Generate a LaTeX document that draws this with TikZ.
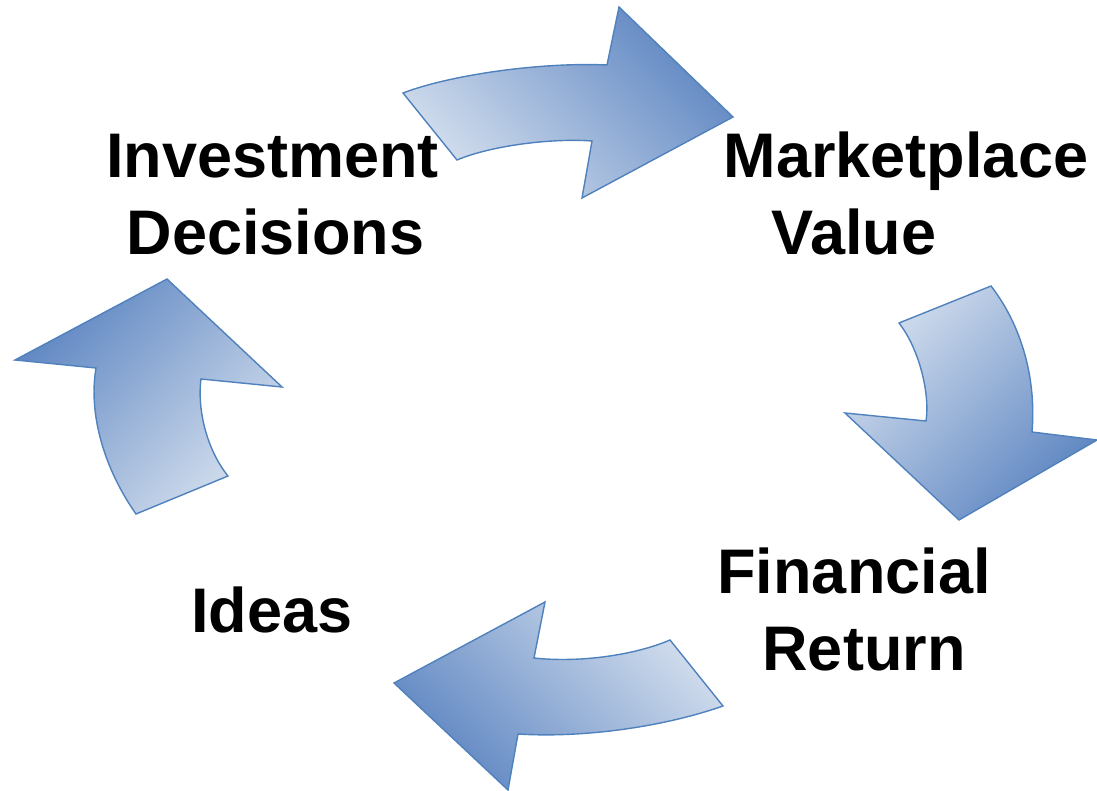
\documentclass[tikz,border=0pt]{standalone}
\usepackage{fontspec}
\setmainfont{Liberation Sans}
\definecolor{arrowlight}{RGB}{212,223,238}
\definecolor{arrowdark}{RGB}{94,134,194}
\definecolor{arrowline}{RGB}{79,129,189}
\tikzset{
  cyclearrow/.style={draw=arrowline, line width=1.4pt, line join=miter,
    top color=arrowdark, bottom color=arrowlight},
  label/.style={font=\bfseries\fontsize{63}{77}\selectfont, inner sep=0pt, anchor=base}
}
\begin{document}
\begin{tikzpicture}[x=1pt,y=-1pt]
\useasboundingbox (0,0) rectangle (1097,791);
% top arrow: Investment Decisions -> Marketplace Value
\shade[cyclearrow, shading angle=-45]
  (403,93) .. controls (450,75) and (540,62) .. (607,65) -- (619,7) -- (733,117)
  -- (582,198) -- (592,141) .. controls (550,138) and (490,146) .. (457,160) -- cycle;
% right arrow: Marketplace Value -> Financial Return
\shade[cyclearrow, shading angle=-135]
  (899,323) -- (991,286) .. controls (1025,330) and (1036,385) .. (1032,432)
  -- (1097,440) -- (959,520) -- (845,413) -- (926,421)
  .. controls (930,395) and (920,350) .. (899,323) -- cycle;
% bottom arrow: Financial Return -> Ideas
\shade[cyclearrow, shading angle=135]
  (670,640) -- (723,706) .. controls (660,728) and (580,738) .. (518,734)
  -- (508,790) -- (394,683) -- (545,602) -- (534,658)
  .. controls (580,663) and (635,655) .. (670,640) -- cycle;
% left arrow: Ideas -> Investment Decisions
\shade[cyclearrow, shading angle=45]
  (228,476) -- (136,514) .. controls (105,470) and (88,415) .. (96,368)
  -- (15,360) -- (167,279) -- (282,387) -- (201,379)
  .. controls (197,410) and (207,450) .. (228,476) -- cycle;
% labels
\node[label] (inv1) at (272.5,178) {Investment};
\node[label] (inv2) at (275.5,255) {Decisions};
\node[label] (mkt1) at (906,178) {Marketplace};
\node[label] (mkt2) at (854,255) {Value};
\node[label] (fin1) at (854,593) {Financial};
\node[label] (fin2) at (864,670) {Return};
\node[label] (ideas) at (272,632) {Ideas};
\end{tikzpicture}
\end{document}
